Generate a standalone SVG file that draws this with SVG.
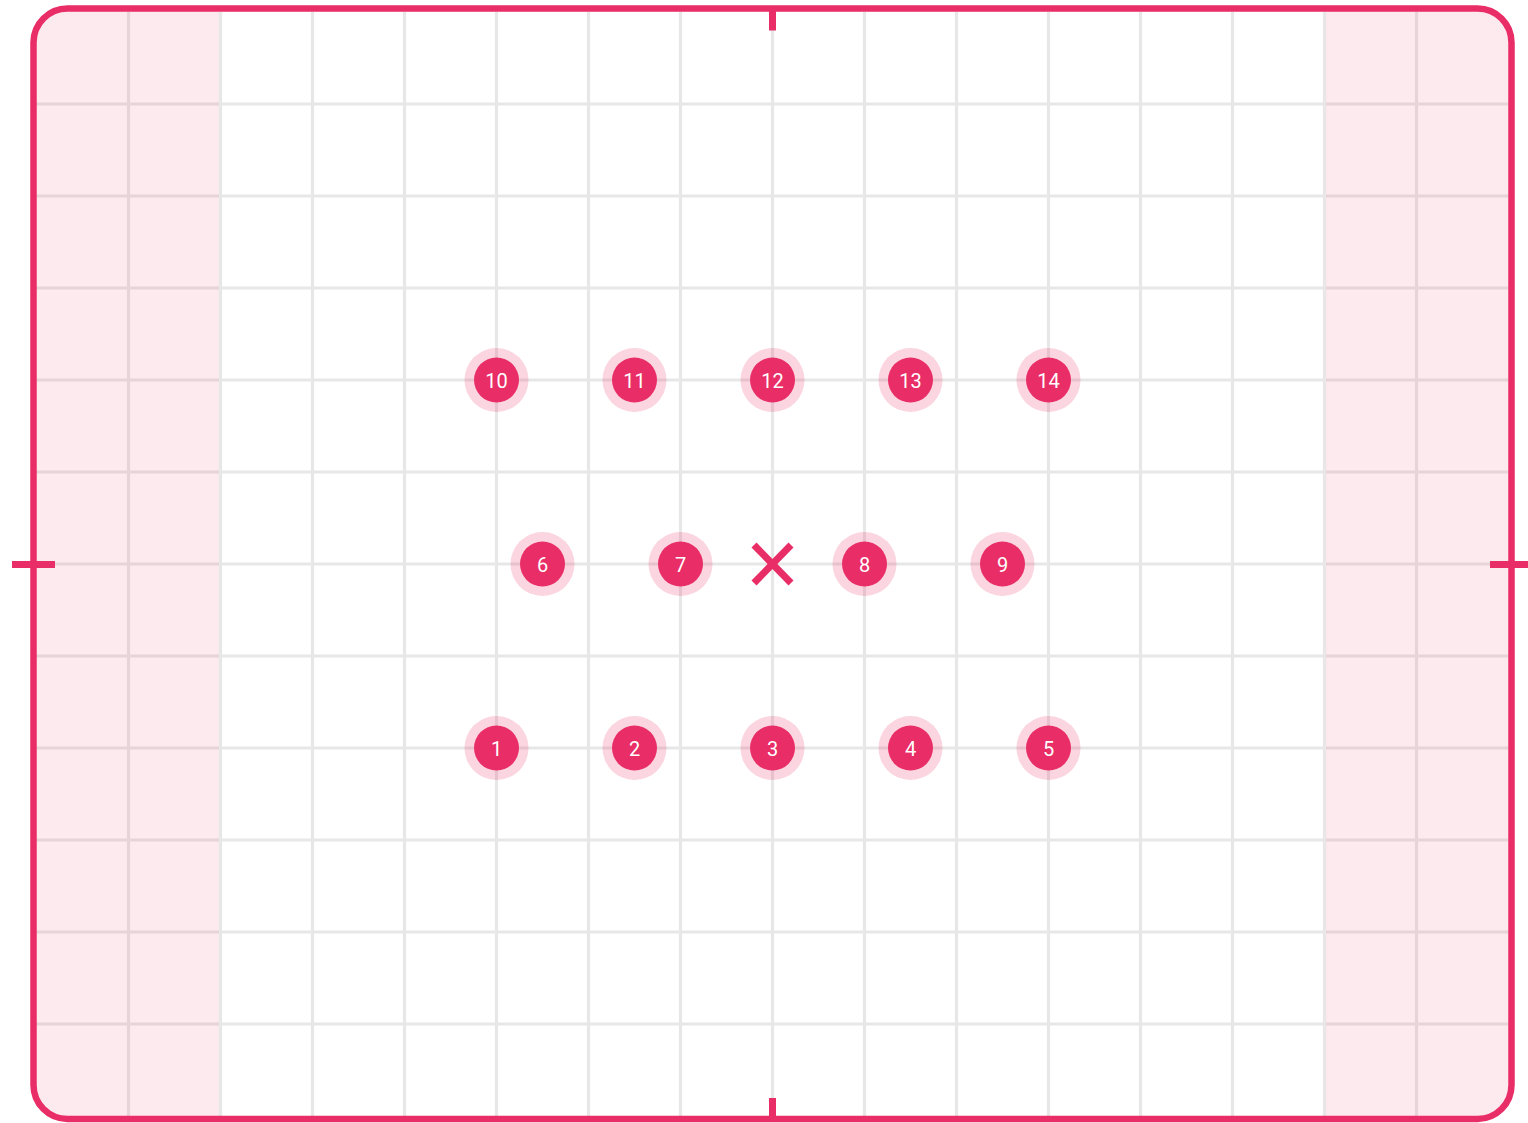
<svg xmlns="http://www.w3.org/2000/svg" width="1528" height="1123" viewBox="0 0 1528 1123">
<defs>
<clipPath id="frameClip"><rect x="33.5" y="8.5" width="1478" height="1110.5" rx="34" ry="34"/></clipPath>
</defs>
<style>
.grid line{stroke:#e7e7e7;stroke-width:3.2}
.halo{fill:#e92d66;fill-opacity:0.2}
.dot{fill:#e92d66}
.lbl{font-family:Roboto,"Liberation Sans",sans-serif;font-size:20px;fill:#ffffff;text-anchor:middle;dominant-baseline:central}
.tick{stroke:#e92d66;stroke-width:7}
</style>
<rect x="0" y="0" width="1528" height="1123" fill="#ffffff"/>
<g class="grid" clip-path="url(#frameClip)">
<line x1="128.5" y1="12" x2="128.5" y2="1116"/>
<line x1="220.5" y1="12" x2="220.5" y2="1116"/>
<line x1="312.5" y1="12" x2="312.5" y2="1116"/>
<line x1="404.5" y1="12" x2="404.5" y2="1116"/>
<line x1="496.5" y1="12" x2="496.5" y2="1116"/>
<line x1="588.5" y1="12" x2="588.5" y2="1116"/>
<line x1="680.5" y1="12" x2="680.5" y2="1116"/>
<line x1="772.5" y1="12" x2="772.5" y2="1116"/>
<line x1="864.5" y1="12" x2="864.5" y2="1116"/>
<line x1="956.5" y1="12" x2="956.5" y2="1116"/>
<line x1="1048.5" y1="12" x2="1048.5" y2="1116"/>
<line x1="1140.5" y1="12" x2="1140.5" y2="1116"/>
<line x1="1232.5" y1="12" x2="1232.5" y2="1116"/>
<line x1="1324.5" y1="12" x2="1324.5" y2="1116"/>
<line x1="1416.5" y1="12" x2="1416.5" y2="1116"/>
<line x1="36" y1="104" x2="1508" y2="104"/>
<line x1="36" y1="196" x2="1508" y2="196"/>
<line x1="36" y1="288" x2="1508" y2="288"/>
<line x1="36" y1="380" x2="1508" y2="380"/>
<line x1="36" y1="472" x2="1508" y2="472"/>
<line x1="36" y1="564" x2="1508" y2="564"/>
<line x1="36" y1="656" x2="1508" y2="656"/>
<line x1="36" y1="748" x2="1508" y2="748"/>
<line x1="36" y1="840" x2="1508" y2="840"/>
<line x1="36" y1="932" x2="1508" y2="932"/>
<line x1="36" y1="1024" x2="1508" y2="1024"/>
</g>
<g id="margins" fill="#e92d66" fill-opacity="0.1" clip-path="url(#frameClip)">
<rect x="30" y="5" width="189" height="1116"/>
<rect x="1326" y="5" width="190" height="1116"/>
</g>
<g id="frame">
<rect x="33.5" y="8.5" width="1478" height="1110.5" rx="34" ry="34" fill="none" stroke="#e92d66" stroke-width="6.5"/>
<line class="tick" x1="772.5" y1="10" x2="772.5" y2="30.5"/>
<line class="tick" x1="772.5" y1="1098" x2="772.5" y2="1118"/>
<line class="tick" x1="12" y1="564.5" x2="55" y2="564.5"/>
<line class="tick" x1="1490" y1="564.5" x2="1528" y2="564.5"/>
</g>
<g id="center-mark" stroke="#e92d66" stroke-width="7">
<line x1="754" y1="545" x2="791" y2="583"/>
<line x1="791" y1="545" x2="754" y2="583"/>
</g>
<g id="connectors"></g>
<g id="n1"><circle class="halo" cx="496.5" cy="748" r="32"/><circle class="dot" cx="496.5" cy="748" r="22.5"/><text class="lbl" x="496.5" y="749">1</text></g>
<g id="n2"><circle class="halo" cx="634.5" cy="748" r="32"/><circle class="dot" cx="634.5" cy="748" r="22.5"/><text class="lbl" x="634.5" y="749">2</text></g>
<g id="n3"><circle class="halo" cx="772.5" cy="748" r="32"/><circle class="dot" cx="772.5" cy="748" r="22.5"/><text class="lbl" x="772.5" y="749">3</text></g>
<g id="n4"><circle class="halo" cx="910.5" cy="748" r="32"/><circle class="dot" cx="910.5" cy="748" r="22.5"/><text class="lbl" x="910.5" y="749">4</text></g>
<g id="n5"><circle class="halo" cx="1048.5" cy="748" r="32"/><circle class="dot" cx="1048.5" cy="748" r="22.5"/><text class="lbl" x="1048.5" y="749">5</text></g>
<g id="n6"><circle class="halo" cx="542.5" cy="564" r="32"/><circle class="dot" cx="542.5" cy="564" r="22.5"/><text class="lbl" x="542.5" y="565">6</text></g>
<g id="n7"><circle class="halo" cx="680.5" cy="564" r="32"/><circle class="dot" cx="680.5" cy="564" r="22.5"/><text class="lbl" x="680.5" y="565">7</text></g>
<g id="n8"><circle class="halo" cx="864.5" cy="564" r="32"/><circle class="dot" cx="864.5" cy="564" r="22.5"/><text class="lbl" x="864.5" y="565">8</text></g>
<g id="n9"><circle class="halo" cx="1002.5" cy="564" r="32"/><circle class="dot" cx="1002.5" cy="564" r="22.5"/><text class="lbl" x="1002.5" y="565">9</text></g>
<g id="n10"><circle class="halo" cx="496.5" cy="380" r="32"/><circle class="dot" cx="496.5" cy="380" r="22.5"/><text class="lbl" x="496.5" y="381">10</text></g>
<g id="n11"><circle class="halo" cx="634.5" cy="380" r="32"/><circle class="dot" cx="634.5" cy="380" r="22.5"/><text class="lbl" x="634.5" y="381">11</text></g>
<g id="n12"><circle class="halo" cx="772.5" cy="380" r="32"/><circle class="dot" cx="772.5" cy="380" r="22.5"/><text class="lbl" x="772.5" y="381">12</text></g>
<g id="n13"><circle class="halo" cx="910.5" cy="380" r="32"/><circle class="dot" cx="910.5" cy="380" r="22.5"/><text class="lbl" x="910.5" y="381">13</text></g>
<g id="n14"><circle class="halo" cx="1048.5" cy="380" r="32"/><circle class="dot" cx="1048.5" cy="380" r="22.5"/><text class="lbl" x="1048.5" y="381">14</text></g>
</svg>
